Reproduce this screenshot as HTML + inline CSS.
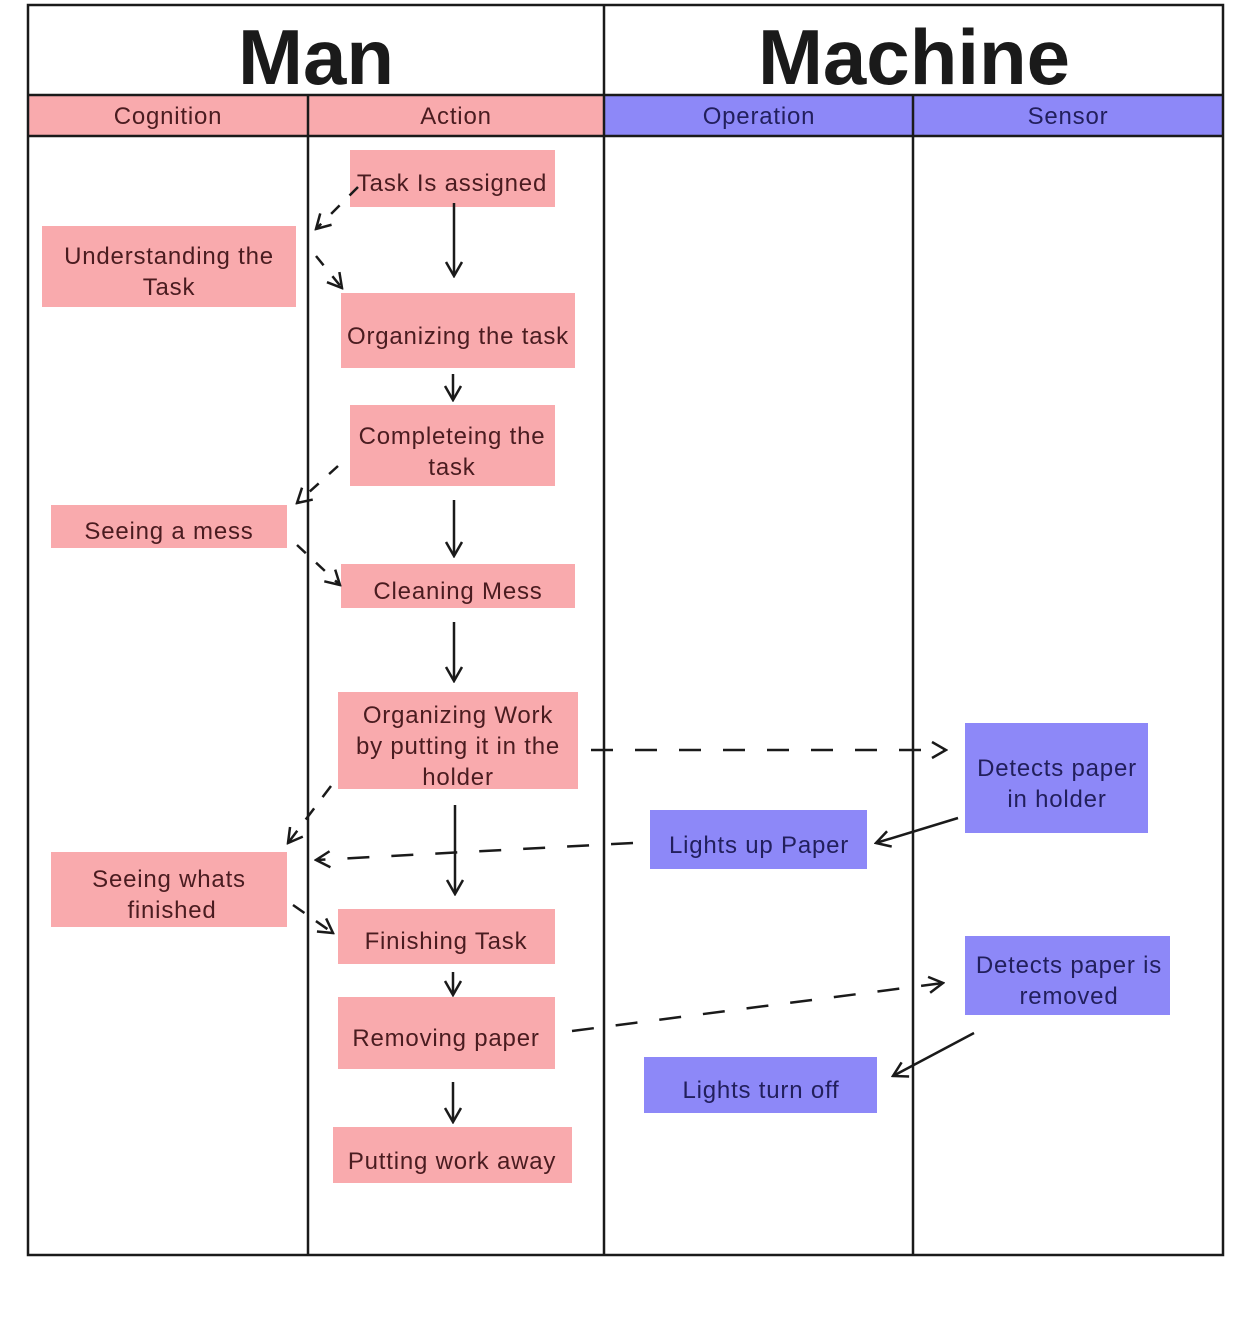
<!DOCTYPE html>
<html><head><meta charset="utf-8"><style>
html,body{margin:0;padding:0;background:#fff;}
svg{display:block;}
text{font-family:"Liberation Sans",sans-serif;}
.p{fill:#f9aaad;}
.b{fill:#8d88f8;}
.tp{fill:#4a1c20;font-size:24px;text-anchor:middle;letter-spacing:0.8px;}
.tb{fill:#221f5c;font-size:24px;text-anchor:middle;letter-spacing:0.8px;}
.ln{stroke:#1a1a1a;stroke-width:2.5;fill:none;}
.d{stroke:#1a1a1a;stroke-width:2.5;fill:none;stroke-dasharray:22 22;}
.ah{stroke:#1a1a1a;stroke-width:2.5;fill:none;}
</style></head><body>
<svg width="1253" height="1333" viewBox="0 0 1253 1333" xmlns="http://www.w3.org/2000/svg">
<defs>
<marker id="a" viewBox="0 0 20 20" refX="18" refY="10" markerWidth="20" markerHeight="20" markerUnits="userSpaceOnUse" orient="auto">
<polyline points="4,2 18,10 4,18" class="ah"/>
</marker>
</defs>
<rect x="28" y="95" width="576" height="41" class="p"/>
<rect x="604" y="95" width="619" height="41" class="b"/>
<text x="316" y="84" font-size="78" font-weight="bold" text-anchor="middle" fill="#1a1a1a">Man</text>
<text x="914" y="84" font-size="78" font-weight="bold" text-anchor="middle" fill="#1a1a1a">Machine</text>
<text x="168" y="124" class="tp">Cognition</text>
<text x="456" y="124" class="tp">Action</text>
<text x="759" y="124" class="tb">Operation</text>
<text x="1068" y="124" class="tb">Sensor</text>
<rect x="28" y="5" width="1195" height="1250" class="ln"/>
<line x1="28" y1="95" x2="1223" y2="95" class="ln"/>
<line x1="28" y1="136" x2="1223" y2="136" class="ln"/>
<line x1="308" y1="95" x2="308" y2="1255" class="ln"/>
<line x1="604" y1="5" x2="604" y2="1255" class="ln"/>
<line x1="913" y1="95" x2="913" y2="1255" class="ln"/>
<rect x="350" y="150" width="205" height="57" class="p"/><text x="452" y="191" class="tp">Task Is assigned</text>
<rect x="42" y="226" width="254" height="81" class="p"/><text x="169" y="264" class="tp">Understanding the</text><text x="169" y="295" class="tp">Task</text>
<rect x="341" y="293" width="234" height="75" class="p"/><text x="458" y="344" class="tp">Organizing the task</text>
<rect x="350" y="405" width="205" height="81" class="p"/><text x="452" y="444" class="tp">Completeing the</text><text x="452" y="475" class="tp">task</text>
<rect x="51" y="505" width="236" height="43" class="p"/><text x="169" y="539" class="tp">Seeing a mess</text>
<rect x="341" y="564" width="234" height="44" class="p"/><text x="458" y="599" class="tp">Cleaning Mess</text>
<rect x="338" y="692" width="240" height="97" class="p"/><text x="458" y="723" class="tp">Organizing Work</text><text x="458" y="754" class="tp">by putting it in the</text><text x="458" y="785" class="tp">holder</text>
<rect x="51" y="852" width="236" height="75" class="p"/><text x="169" y="887" class="tp">Seeing whats</text><text x="172" y="918" class="tp">finished</text>
<rect x="338" y="909" width="217" height="55" class="p"/><text x="446" y="949" class="tp">Finishing Task</text>
<rect x="338" y="997" width="217" height="72" class="p"/><text x="446" y="1046" class="tp">Removing paper</text>
<rect x="333" y="1127" width="239" height="56" class="p"/><text x="452" y="1169" class="tp">Putting work away</text>
<rect x="965" y="723" width="183" height="110" class="b"/><text x="1057" y="776" class="tb">Detects paper</text><text x="1057" y="807" class="tb">in holder</text>
<rect x="650" y="810" width="217" height="59" class="b"/><text x="759" y="853" class="tb">Lights up Paper</text>
<rect x="965" y="936" width="205" height="79" class="b"/><text x="1069" y="973" class="tb">Detects paper is</text><text x="1069" y="1004" class="tb">removed</text>
<rect x="644" y="1057" width="233" height="56" class="b"/><text x="761" y="1098" class="tb">Lights turn off</text>
<line x1="454" y1="203" x2="454" y2="276" class="ln" marker-end="url(#a)"/>
<line x1="453" y1="374" x2="453" y2="400" class="ln" marker-end="url(#a)"/>
<line x1="454" y1="500" x2="454" y2="556" class="ln" marker-end="url(#a)"/>
<line x1="454" y1="622" x2="454" y2="681" class="ln" marker-end="url(#a)"/>
<line x1="455" y1="805" x2="455" y2="894" class="ln" marker-end="url(#a)"/>
<line x1="453" y1="972" x2="453" y2="995" class="ln" marker-end="url(#a)"/>
<line x1="453" y1="1082" x2="453" y2="1122" class="ln" marker-end="url(#a)"/>
<line x1="958" y1="818" x2="876" y2="843" class="ln" marker-end="url(#a)"/>
<line x1="974" y1="1033" x2="893" y2="1076" class="ln" marker-end="url(#a)"/>
<line x1="358" y1="187" x2="316" y2="229" class="ln" stroke-dasharray="12 14" marker-end="url(#a)"/>
<line x1="316" y1="256" x2="342" y2="288" class="ln" stroke-dasharray="12 14" marker-end="url(#a)"/>
<line x1="338" y1="466" x2="297" y2="503" class="ln" stroke-dasharray="12 14" marker-end="url(#a)"/>
<line x1="297" y1="545" x2="340" y2="585" class="ln" stroke-dasharray="12 14" marker-end="url(#a)"/>
<line x1="331" y1="786" x2="288" y2="843" class="ln" stroke-dasharray="14 14" marker-end="url(#a)"/>
<line x1="293" y1="905" x2="333" y2="933" class="ln" stroke-dasharray="14 14" marker-end="url(#a)"/>
<line x1="591" y1="750" x2="946" y2="750" class="d" marker-end="url(#a)"/>
<line x1="633" y1="843" x2="316" y2="860" class="d" marker-end="url(#a)"/>
<line x1="572" y1="1031" x2="943" y2="983" class="d" marker-end="url(#a)"/>
</svg>
</body></html>
